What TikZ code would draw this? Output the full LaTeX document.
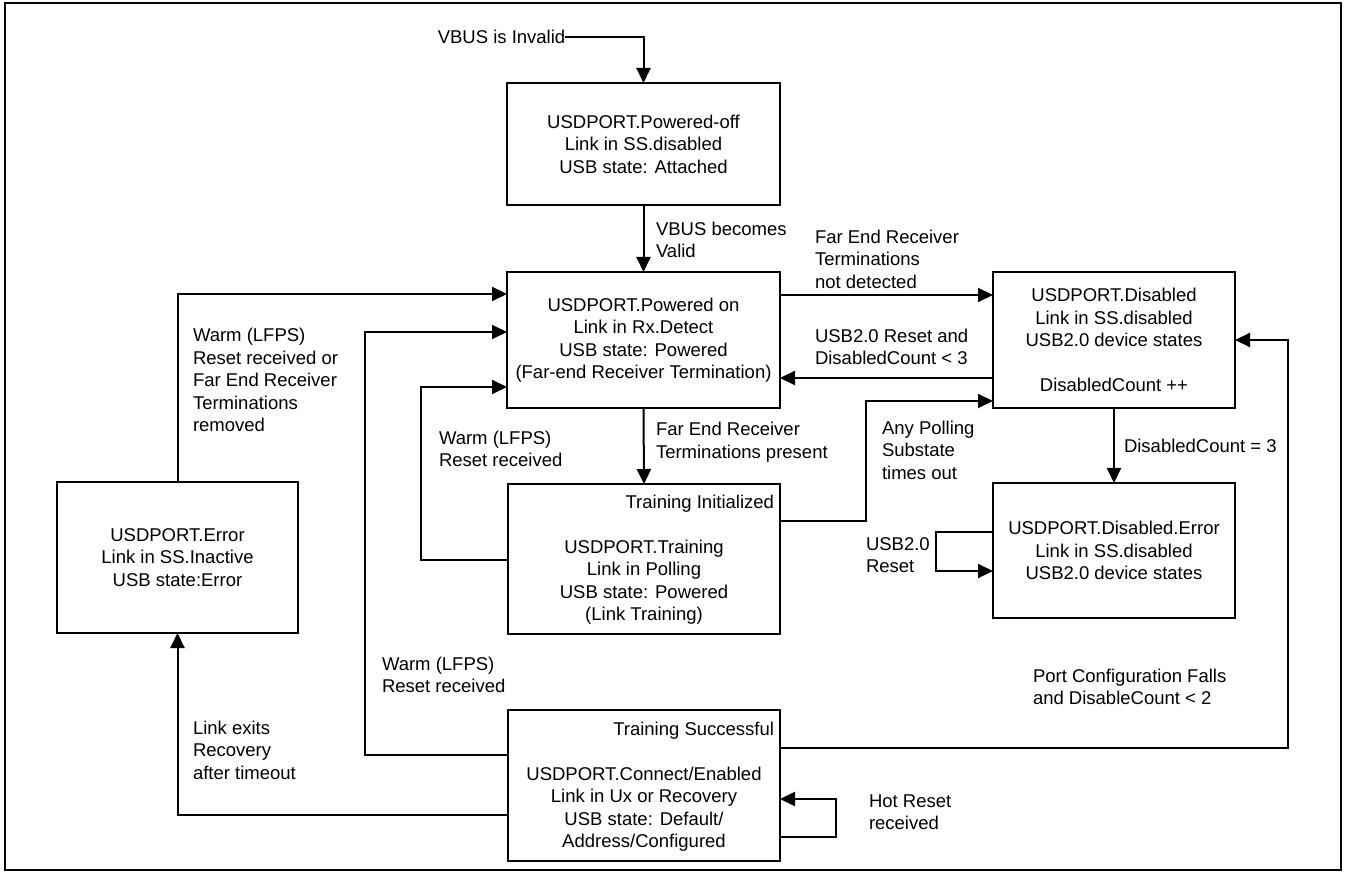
\documentclass[tikz,border=0pt]{standalone}
\usepackage{fontspec}
\setmainfont{Liberation Sans}
\usetikzlibrary{arrows.meta}
\begin{document}
\begin{tikzpicture}[x=1pt,y=-1pt,
  every node/.style={font=\fontsize{18.5}{22.5}\selectfont, inner sep=0pt, outer sep=0pt},
  statebox/.style 2 args={draw, line width=2pt, minimum width=#1, minimum height=#2, align=center},
  lbl/.style={anchor=west, align=left},
  arr/.style={line width=2pt, -{Triangle[length=15pt,width=14pt]}}]
\useasboundingbox (0,0) rectangle (1345,874);
\draw[line width=2pt] (5,3) rectangle (1341,870);

% states
\node[statebox={273pt}{122pt}] (off) at (643.5,144) {USDPORT.Powered-off\\Link in SS.disabled\\USB state: Attached};
\node[statebox={273pt}{136pt}] (on) at (643.5,340) {USDPORT.Powered on\\Link in Rx.Detect\\USB state: Powered\\(Far-end Receiver Termination)};
\node[statebox={242pt}{136pt}] (dis) at (1114,340) {USDPORT.Disabled\\Link in SS.disabled\\USB2.0 device states\\[22.5pt]DisabledCount ++};
\node[statebox={272pt}{150pt}] (train) at (644,559) {};
\node[align=center] (traintxt) at (644,582) {USDPORT.Training\\Link in Polling\\USB state: Powered\\(Link Training)};
\node[anchor=east] (trainhd) at (774,504) {Training Initialized};
\node[statebox={242pt}{135pt}] (derr) at (1114,550.5) {USDPORT.Disabled.Error\\Link in SS.disabled\\USB2.0 device states};
\node[statebox={272pt}{151pt}] (succ) at (644,785.5) {};
\node[align=center] (succtxt) at (644,809) {USDPORT.Connect/Enabled\\Link in Ux or Recovery\\USB state: Default/\\Address/Configured};
\node[anchor=east] (succhd) at (774,731) {Training Successful};
\node[statebox={241pt}{151pt}] (err) at (177.5,557.5) {USDPORT.Error\\Link in SS.Inactive\\USB state:Error};

% helper coordinates
\coordinate (pk) at (866,401);
\coordinate (rl) at (936,550);
\coordinate (wl) at (421,470);
\coordinate (wl2) at (365,500);
\coordinate (pc) at (1288,500);
\coordinate (hr) at (836,818);

% connectors
\node (vinv) at (501.5,37) {VBUS is Invalid};
\draw[arr] (vinv.east) -| (off.north);

\draw[arr] (off.south) -- (on.north);
\node[lbl] (l1) at (656,240) {VBUS becomes\\Valid};

\draw[arr] ([yshift=-23pt]on.north east) -- ([yshift=-23pt]dis.north west);
\node[lbl] (l2) at (815,259) {Far End Receiver\\Terminations\\not detected};

\draw[arr] ([yshift=30pt]dis.south west) -- ([yshift=30pt]on.south east);
\node[lbl] (l3) at (815,347) {USB2.0 Reset and\\DisabledCount < 3};

\draw[arr] (on.south) -- (train.north);
\node[lbl] (l4) at (656,442) {Far End Receiver\\Terminations present};

\draw[arr] ([yshift=-37pt]train.north east) -| (pk) -- ([yshift=7pt]dis.south west);
\node[lbl] (l5) at (882,450) {Any Polling\\Substate\\times out};

\draw[arr] (dis.south) -- (derr.north);
\node[lbl] (l6) at (1124,446) {DisabledCount = 3};

\draw[arr] ([yshift=-49pt]derr.north west) -| (rl) |- ([yshift=-88pt]derr.north west);
\node[lbl] (l7) at (866,555) {USB2.0\\Reset};

\draw[arr] ([yshift=-76pt]train.north west) -| (wl) |- ([yshift=21pt]on.south west);
\node[lbl] (l8) at (439,449) {Warm (LFPS)\\Reset received};

\draw[arr] ([yshift=-45pt]succ.north west) -| (wl2) |- ([yshift=-60pt]on.north west);
\node[lbl] (l9) at (382,675) {Warm (LFPS)\\Reset received};

\draw[arr] (err.north) |- ([yshift=-22pt]on.north west);
\node[lbl] (l10) at (193,380) {Warm (LFPS)\\Reset received or\\Far End Receiver\\Terminations\\removed};

\draw[arr] ([yshift=-105pt]succ.north west) -| (err.south);
\node[lbl] (l11) at (193,750) {Link exits\\Recovery\\after timeout};

\draw[arr] ([yshift=-38pt]succ.north east) -| (pc) |- (dis.east);
\node[lbl] (l12) at (1033,687) {Port Configuration Falls\\and DisableCount < 2};

\draw[arr] ([yshift=-127pt]succ.north east) -| (hr) |- ([yshift=-89pt]succ.north east);
\node[lbl] (l13) at (869,812) {Hot Reset\\received};
\end{tikzpicture}
\end{document}
